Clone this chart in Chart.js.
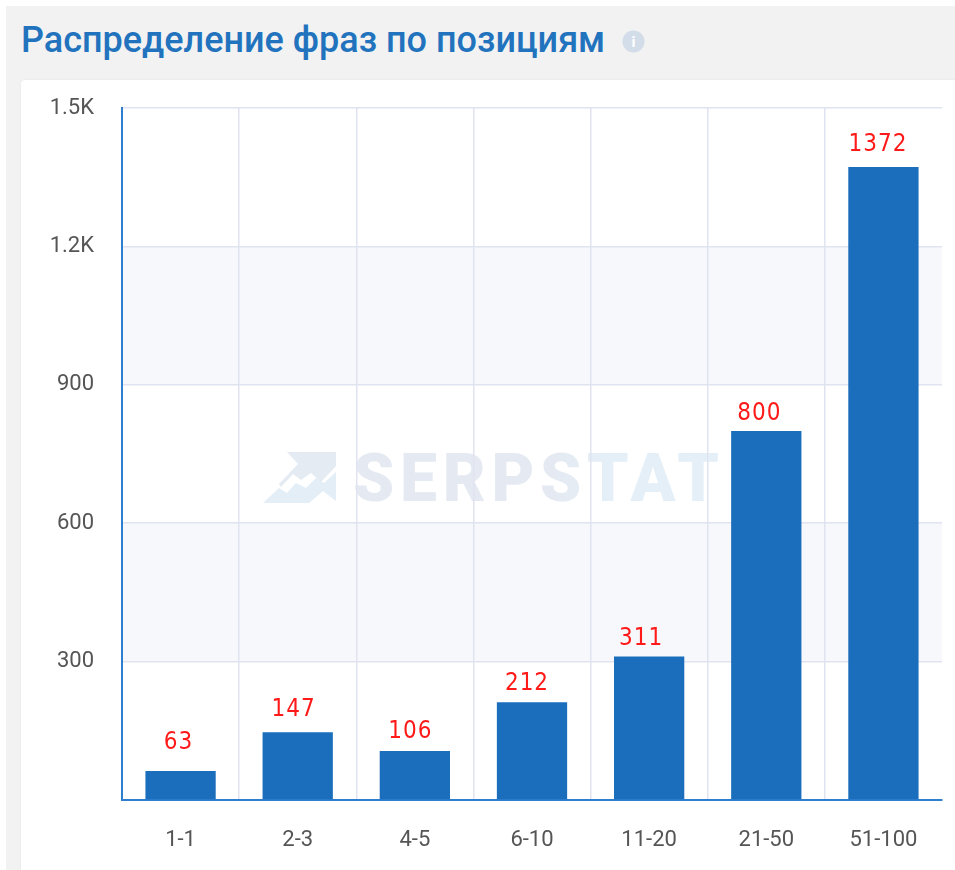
<!DOCTYPE html>
<html lang="ru"><head><meta charset="utf-8">
<script src="https://cdn.jsdelivr.net/npm/chart.js@4"></script>
<style>
html,body{margin:0;padding:0;background:#fff;width:955px;height:870px;overflow:hidden}
#page{position:absolute;left:0;top:0;width:955px;height:870px;filter:blur(.6px);overflow:hidden}
#panel{position:absolute;left:6px;top:6px;width:960px;height:880px;background:#f2f2f2}
#card{position:absolute;left:21px;top:80px;width:950px;height:800px;background:#fff;border-radius:4px 0 0 0;box-shadow:0 0 2px rgba(0,0,0,.08)}
#title{position:absolute;left:21px;top:19px;font:500 36px Roboto,sans-serif;color:#2273be;white-space:nowrap;line-height:42px}
#info{position:absolute;left:622px;top:30px}
#mark{position:absolute;left:0;top:0}
#wrap{position:absolute;left:0;top:0;width:955px;height:870px}
</style></head><body><div id="page">
<div id="panel"></div><div id="card"></div>
<div id="title">Распределение фраз по позициям</div>
<svg id="info" width="23" height="23"><circle cx="11.5" cy="11.5" r="11" fill="#d3dde9"/><text x="11.5" y="17" text-anchor="middle" font-family="Roboto" font-weight="700" font-size="15" fill="#fff">i</text></svg>
<svg id="mark" width="955" height="870">
<defs><linearGradient id="wm" x1="0" x2="1" y1="0" y2="0"><stop offset="0" stop-color="#e5eaf2"/><stop offset=".55" stop-color="#e5eaf2"/><stop offset=".7" stop-color="#e4eff8"/><stop offset="1" stop-color="#e4eff8"/></linearGradient></defs>
<path d="M287 452H336V466L321 482 L311 473 L301 480 L293 474 L281 487 L279 484 L298 464Z" fill="#e4ebf3"/>
<path d="M263 503L279 488 L287 493 L296 483 L306 488 L316 478 L324 483 L336 472V501L323 491 L309 503Z" fill="#e3eef7"/>
<text x="353" y="501" font-family="Roboto" font-weight="900" font-size="66" fill="url(#wm)" textLength="366">SERPSTAT</text>
</svg>
<div id="wrap"><canvas id="c" width="955" height="870"></canvas></div>
</div>
<script>
const categories=['1-1','2-3','4-5','6-10','11-20','21-50','51-100'];
const phraseCounts=[63,147,106,212,311,800,1372];
const yTicks=[0,300,600,900,1200,1500];
const shadedBands=[[900,1200],[300,600]];
const labelNudgeX=[-2,-4,-4.5,-5,-8,-7,-5.5];
const labelNudgeY=[-7,-1,2,3,3,4,-1];
const gridColor='#dfe4f0';
const tickFmt=v=>v>=1000?(v/1000).toFixed(1)+'K':(v===0?'':String(v));
const bandsPlugin={id:'bands',beforeDraw(ch){
  const {ctx,chartArea:a,scales:{y}}=ch;ctx.save();ctx.fillStyle='#f7f8fb';
  shadedBands.forEach(([lo,hi])=>{const t=y.getPixelForValue(hi),b=y.getPixelForValue(lo);ctx.fillRect(a.left,t,a.right-a.left,b-t);});
  ctx.restore();}};
const labelPlugin={id:'barLabels',afterDatasetsDraw(ch){
  const {ctx}=ch;ctx.save();ctx.fillStyle='#ff1a1a';ctx.font='24px "DejaVu Sans Condensed","DejaVu Sans"';ctx.letterSpacing='1px';ctx.textAlign='center';ctx.textBaseline='alphabetic';
  ch.getDatasetMeta(0).data.forEach((el,i)=>ctx.fillText(String(phraseCounts[i]),el.x+labelNudgeX[i],el.y-15+labelNudgeY[i]));
  ctx.restore();}};
new Chart(document.getElementById('c'),{
  type:'bar',
  data:{labels:categories,datasets:[{data:phraseCounts,backgroundColor:'#1b6ebc',barPercentage:0.6,categoryPercentage:1}]},
  plugins:[bandsPlugin,labelPlugin],
  options:{responsive:false,animation:false,
    layout:{padding:{top:108,right:13,left:0,bottom:0}},
    plugins:{legend:{display:false},tooltip:{enabled:false}},
    scales:{
      x:{afterFit(s){s.height=70;},
        grid:{color:c=>c.tick?gridColor:'transparent',lineWidth:1.5,drawTicks:false},border:{color:'#2f7fd0',width:2},
        ticks:{color:'#555',font:{family:'Roboto',size:22},padding:27}},
      y:{min:0,max:1500,afterFit(s){s.width=122;},afterBuildTicks(s){s.ticks=yTicks.map(v=>({value:v}));},
        grid:{color:gridColor,lineWidth:1.5,drawTicks:false},border:{color:'#2f7fd0',width:2},
        ticks:{color:'#555',font:{family:'Roboto',size:22},padding:28,callback:tickFmt}}
    }}
});
</script></body></html>
